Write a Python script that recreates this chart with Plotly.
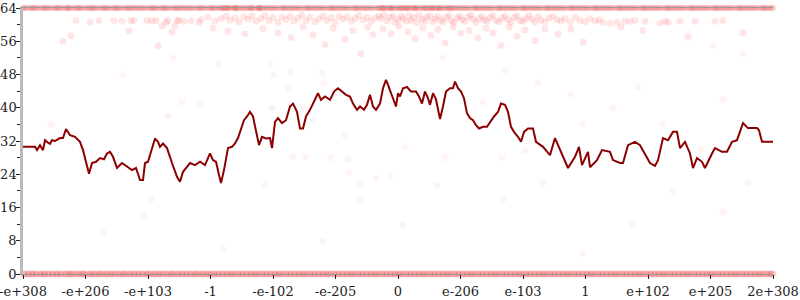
import plotly.graph_objects as go

# ---- tick labels (x axis: ordered float bit-pattern positions) ----
tick_labels = ["-e+308", "-e+206", "-e+103", "-1", "-e-102", "-e-205", "0",
               "e-206", "e-103", "1", "e+102", "e+205", "2e+308"]
tick_pos = [0, 62.5, 125, 187.5, 250, 312.5, 375, 437.5, 500, 562.5, 625, 687.5, 750]

# ---- moving-average line ----
line_x = [0, 12, 14, 17, 20, 22, 25, 27, 29, 32, 37, 40, 43, 47, 52, 57, 60, 63, 66, 69,
          73, 77, 81, 84, 87, 90, 94, 99, 104, 109, 113, 117, 120, 122, 125, 129, 132, 135,
          137, 140, 144, 149, 154, 157, 160, 164, 167, 172, 177, 182, 185, 187, 190, 193,
          196, 198, 201, 205, 209, 212, 215, 218, 221, 224, 227, 230, 233, 236, 239, 243,
          247, 249, 252, 255, 259, 263, 267, 270, 274, 277, 280, 283, 287, 292, 295, 298,
          302, 307, 311, 315, 319, 323, 327, 330, 334, 337, 341, 344, 347, 350, 353, 357,
          360, 363, 365, 368, 371, 373, 375, 377, 380, 384, 388, 393, 396, 399, 402, 405,
          407, 410, 413, 417, 420, 423, 427, 430, 432, 435, 438, 441, 444, 447, 450, 453,
          456, 460, 464, 467, 471, 475, 478, 482, 485, 488, 491, 495, 498, 501, 505, 510,
          513, 520, 527, 532, 539, 545, 552, 556, 559, 565, 567, 574, 579, 587, 590, 597,
          600, 605, 612, 617, 627, 632, 635, 640, 645, 650, 654, 657, 662, 667, 670, 674,
          679, 682, 689, 692, 699, 704, 709, 714, 720, 725, 734, 736, 739, 750]
line_y = [30.6, 30.6, 29.8, 31, 29.8, 32.2, 31.6, 31.3, 32.2, 32, 32.7, 32.7, 34.9, 33.4,
          33, 31.8, 29.8, 26.7, 24.1, 26.7, 27, 27.9, 27.6, 29, 29.4, 28.2, 25.5, 26.7, 25.8,
          25, 25.5, 22.6, 22.6, 26.7, 27, 30.2, 32.6, 31.8, 30.6, 31.4, 30.3, 26.7, 23.4,
          22.2, 24.6, 25.8, 26.7, 26.2, 27, 26.2, 27.8, 29, 27.4, 27, 23.8, 21.9, 25, 30.3,
          30.6, 31.4, 32.7, 34.6, 37, 37.9, 39, 37.9, 34.6, 31, 33, 32.6, 32.7, 30.3, 36.6,
          37.5, 36.3, 37, 40.3, 41, 39, 35, 35, 37.9, 39.5, 42.1, 43.5, 41.9, 42.7, 41.9,
          43.9, 44.7, 43.9, 43.1, 42.7, 41, 39.5, 40.3, 39.5, 40.7, 43.1, 40.3, 39.5, 41,
          44.7, 46.7, 45.5, 43.5, 41.9, 40.3, 43.5, 42.7, 44.7, 45, 43.9, 43.9, 42.7, 41,
          43.9, 42.3, 40.7, 43.5, 42, 37.3, 40.3, 43.9, 44.7, 44.7, 46.3, 44.7, 43.9, 42.3,
          38.7, 37.5, 37, 35.8, 35, 35.4, 35.4, 36.6, 37.9, 39, 41, 40.7, 39, 35.4, 34.2,
          33, 31.8, 34.2, 35, 35, 31.8, 30.6, 28.6, 32.7, 28.6, 25.5, 28.2, 30.6, 26.2,
          29.4, 25.7, 27.4, 29.8, 29.4, 27.4, 26.7, 26.7, 31, 31.8, 31, 26.7, 26, 27.4,
          32.7, 32.2, 34.2, 34.2, 30.3, 31.8, 29, 25.5, 27.9, 27, 25.5, 29, 30.3, 29.4,
          29.4, 31.8, 32.2, 36.3, 35.1, 35.1, 34.6, 31.8, 31.8]

# ---- dense bands of samples at the extremes ----
top_band_x = [0, 3, 8, 11, 15, 20, 23, 27, 32, 35, 39, 44, 46, 51, 55, 58, 63, 67, 70, 74,
              79, 82, 86, 91, 94, 98, 103, 106, 110, 114, 118, 122, 127, 130, 134, 139, 142,
              146, 151, 154, 158, 162, 166, 170, 175, 178, 182, 187, 190, 194, 198, 202, 206,
              211, 214, 218, 222, 226, 230, 235, 238, 242, 246, 250, 254, 259, 262, 266, 270,
              274, 278, 283, 286, 290, 294, 298, 302, 307, 310, 314, 318, 322, 326, 331, 334,
              338, 342, 346, 350, 355, 358, 362, 366, 370, 374, 379, 382, 386, 390, 394, 398,
              403, 406, 410, 414, 418, 422, 427, 430, 434, 438, 442, 446, 451, 454, 458, 462,
              466, 470, 475, 478, 482, 486, 490, 494, 499, 502, 506, 510, 514, 518, 523, 526,
              530, 534, 538, 542, 547, 550, 554, 558, 562, 566, 571, 574, 578, 582, 586, 590,
              595, 598, 602, 606, 610, 614, 619, 622, 626, 630, 634, 638, 643, 646, 650, 654,
              658, 662, 667, 670, 674, 678, 682, 686, 691, 694, 698, 702, 706, 710, 715, 718,
              722, 726, 730, 734, 739, 742, 746, 750, 200, 205, 212, 228, 236, 360, 368, 377,
              384, 392, 401, 409, 416, 425]
bottom_band_x = [1, 5, 9, 13, 18, 21, 26, 30, 34, 38, 43, 47, 50, 55, 59, 62, 67, 71, 75, 78,
                 83, 87, 90, 95, 99, 102, 107, 111, 115, 119, 123, 126, 131, 135, 138, 143,
                 147, 150, 155, 159, 163, 167, 171, 174, 179, 183, 186, 191, 195, 199, 203,
                 207, 210, 215, 219, 223, 227, 231, 234, 239, 243, 247, 251, 255, 258, 263,
                 267, 271, 275, 279, 282, 287, 291, 295, 299, 303, 306, 311, 315, 319, 323,
                 327, 330, 335, 339, 343, 347, 351, 354, 359, 363, 367, 371, 375, 378, 383,
                 387, 391, 395, 399, 402, 407, 411, 415, 419, 423, 426, 431, 435, 439, 443,
                 447, 450, 455, 459, 463, 467, 471, 474, 479, 483, 487, 491, 495, 498, 503,
                 507, 511, 515, 519, 522, 527, 531, 535, 539, 543, 546, 551, 555, 559, 563,
                 567, 570, 575, 579, 583, 587, 591, 594, 599, 603, 607, 611, 615, 618, 623,
                 627, 631, 635, 639, 642, 647, 651, 655, 659, 663, 666, 671, 675, 679, 683,
                 687, 690, 695, 699, 703, 707, 711, 714, 719, 723, 727, 731, 735, 738, 743,
                 747, 750]
# further samples that fill both extreme bands
band_fill_x = [1.5, 5.5, 9.5, 13, 17.5, 21.5, 25, 29.5, 33.5, 37, 41.5, 45, 48.5, 53, 56.5,
               60.5, 65, 68.5, 72, 76.5, 80.5, 84, 88.5, 92.5, 96, 100.5, 104.5, 108, 112,
               116, 120, 124.5, 128.5, 132, 136.5, 140.5, 144, 148.5, 152.5, 156, 160, 164,
               168, 172.5, 176.5, 180, 184.5, 188.5, 192, 196, 200, 204, 208.5, 212.5, 216,
               220, 224, 228, 232.5, 236.5, 240, 244, 248, 252, 256.5, 260.5, 264, 268, 272,
               276, 280.5, 284.5, 288, 292, 296, 300, 304.5, 308.5, 312, 316, 320, 324,
               328.5, 332.5, 336, 340, 344, 348, 352.5, 356.5, 360, 364, 368, 372, 376.5,
               380.5, 384, 388, 392, 396, 400.5, 404.5, 408, 412, 416, 420, 424.5, 428.5,
               432, 436, 440, 444, 448.5, 452.5, 456, 460, 464, 468, 472.5, 476.5, 480, 484,
               488, 492, 496.5, 500.5, 504, 508, 512, 516, 520.5, 524.5, 528, 532, 536, 540,
               544.5, 548.5, 552, 556, 560, 564, 568.5, 572.5, 576, 580, 584, 588, 592.5,
               596.5, 600, 604, 608, 612, 616.5, 620.5, 624, 628, 632, 636, 640.5, 644.5,
               648, 652, 656, 660, 664.5, 668.5, 672, 676, 680, 684, 688.5, 692.5, 696, 700,
               704, 708, 712.5, 716.5, 720, 724, 728, 732, 736.5, 740.5, 744, 748]
TOP_VALUE = 64.0
BOTTOM_VALUE = 0.0

# ---- cloud of samples just below the top ----
cloud_x = [53, 67, 76, 91, 99, 108, 111, 124, 129, 133, 143, 145, 154, 156, 161, 168, 176,
           40, 48, 106, 135, 139, 149, 152,
           178, 185, 192, 198, 203, 207, 212, 216, 221, 225, 229, 233, 238, 242, 246, 250,
           255, 259, 263, 267, 271, 275, 279, 283, 287, 292, 296, 300, 304, 308, 312, 316,
           320, 324, 328, 332, 336, 340, 344, 348, 352, 356,
           190, 205, 222, 240, 255, 268, 280, 290, 302, 310, 322, 330, 338, 345, 350,
           358, 361, 364, 367, 370, 372, 375, 378, 380, 383, 386, 388, 391, 394, 396, 399,
           402, 404, 407, 410, 412, 415, 418, 420, 423, 426, 428, 431, 434, 437, 439, 442,
           445, 448, 450, 453, 456, 459, 461, 464, 467, 470, 473, 476, 479, 482, 485, 488,
           491, 494, 497, 500, 503, 506, 509, 512, 515, 518, 522, 526, 530, 534, 538, 542,
           547, 552, 557, 562, 567, 572, 576,
           360, 368, 376, 385, 392, 400, 408, 415, 422, 430, 438, 446, 455, 463, 470, 478,
           486, 494, 502, 512, 522, 535, 548, 560,
           580, 587, 594, 602, 607, 612, 622, 637, 642, 645, 657, 672, 692, 700, 598, 620,
           665, 720]
cloud_y = [61.0, 60.6, 61.0, 61.0, 60.8, 61.0, 61.0, 61.0, 60.8, 61.0, 60.5, 61.0, 61.0,
           61.0, 60.8, 61.0, 60.5,
           56.0, 57.3, 58.5, 55.0, 59.7, 58.2, 59.7,
           61.2, 61.8, 60.9, 61.5, 62.0, 61.1, 61.6, 60.7, 61.9, 61.3, 62.1, 60.8, 61.5,
           62.2, 61.0, 61.7, 60.6, 61.9, 61.2, 62.0, 60.9, 61.6, 62.3, 61.0, 61.8, 60.7,
           61.4, 62.1, 61.0, 61.7, 60.6, 62.0, 61.3, 61.9, 60.8, 61.5, 62.2, 61.1, 61.8,
           60.9, 61.6, 62.1,
           59.2, 58.4, 57.8, 59.0, 58.0, 56.9, 59.5, 57.5, 55.2, 59.1, 56.5, 58.6, 53.0,
           59.4, 57.6,
           61.4, 62.3, 60.9, 61.8, 62.1, 60.6, 61.2, 62.0, 61.5, 60.8, 62.2, 61.0, 61.7,
           60.5, 62.3, 61.3, 60.9, 61.9, 62.1, 60.7, 61.4, 62.0, 61.1, 60.6, 61.8, 62.2,
           61.0, 60.5, 61.6, 62.1, 61.2, 60.8, 61.9, 62.3, 61.3, 60.6, 61.5, 62.0, 61.1,
           60.9, 61.7, 62.2, 61.0, 60.7, 61.6, 62.0, 61.2, 60.5, 61.8, 62.1, 61.0, 60.8,
           61.5, 62.2, 61.3, 60.6, 61.9, 61.1, 60.7, 61.6, 62.0, 61.2, 60.9, 61.5, 60.6,
           61.8, 61.0, 60.7, 61.4, 60.9, 61.2,
           59.0, 57.8, 59.6, 58.3, 56.6, 59.2, 57.4, 58.8, 55.6, 59.4, 57.9, 58.6, 56.8,
           59.1, 58.0, 55.0, 59.5, 57.2, 58.7, 56.2, 59.0, 57.6, 58.9, 55.8,
           60.6, 60.3, 60.6, 60.8, 60.8, 61.0, 60.8, 60.4, 60.8, 60.6, 60.8, 60.8, 60.8,
           61.0, 59.4, 58.6, 57.0, 58.0]

# ---- sparse samples elsewhere ----
sparse_x = [28, 128, 145, 159, 177, 196, 247, 250, 268, 299, 301, 249, 266, 282, 290, 308,
            322, 326, 353, 337, 367, 338, 325, 242, 270, 281, 382, 422, 460, 479, 502, 414,
            482, 515, 548, 560, 590, 615, 640, 678, 700, 720, 610, 560, 300, 200, 120, 60,
            80, 420, 650, 700, 380, 480, 520, 150, 100, 690, 725]
sparse_y = [35.9, 18.0, 38.0, 41.4, 40.7, 50.5, 50.5, 47.9, 48.6, 48.4, 46.0, 40.0, 44.7,
            28.2, 37.0, 28.0, 33.4, 24.3, 22.9, 21.4, 23.6, 17.8, 27.5, 21.4, 28.2, 40.0,
            30.6, 28.0, 41.4, 28.0, 29.8, 21.4, 49.0, 46.0, 43.3, 36.0, 40.0, 45.0, 36.0,
            30.0, 42.0, 53.0, 12.0, 5.0, 8.0, 6.0, 14.0, 30.0, 10.0, 52.0, 20.0, 15.0, 12.0,
            18.0, 22.0, 52.0, 48.0, 55.0, 22.0]

FONT = "DejaVu Serif"
fig = go.Figure()


def pts(x, y, color, size=7):
    fig.add_trace(go.Scatter(x=x, y=y, mode="markers", cliponaxis=False, hoverinfo="skip",
                             marker=dict(size=size, color=color, line=dict(width=0))))


pts(sparse_x, sparse_y, "rgba(255,0,0,0.045)")
pts(cloud_x, cloud_y, "rgba(255,0,0,0.1)")
top_all = top_band_x + band_fill_x
bot_all = bottom_band_x + band_fill_x
pts(top_all, [TOP_VALUE] * len(top_all), "rgba(235,0,0,0.16)", size=6)
pts(bot_all, [BOTTOM_VALUE] * len(bot_all), "rgba(235,0,0,0.15)", size=7)
fig.add_trace(go.Scatter(x=line_x, y=line_y, mode="lines", hoverinfo="skip",
                         line=dict(color="#8b0000", width=2)))

tick_common = dict(tickcolor="#222", tickwidth=1.2)
minor_out = dict(dtick=4, ticklen=3, tickcolor="#222", tickwidth=1, ticks="outside")
minor_in = dict(dtick=4, ticklen=3, tickcolor="#222", tickwidth=1, ticks="inside")
no_auto = dict(automargin=False, showgrid=False, zeroline=False)

yrange = [0, 64]
fig.update_layout(
    width=800, height=300,
    margin=dict(l=23, r=27, t=8, b=26, autoexpand=False),
    plot_bgcolor="white", paper_bgcolor="white",
    showlegend=False,
    font=dict(family=FONT, size=13, color="#222"),
    xaxis=dict(range=[0, 750], tickmode="array", tickvals=tick_pos, ticktext=tick_labels,
               ticks="outside", ticklen=4, showline=True, linecolor="#999", linewidth=1,
               mirror=True, ticklabelstandoff=1, ticklabeloverflow="allow",
               tickfont=dict(family=FONT, size=13, color="#222"), **no_auto, **tick_common),
    xaxis2=dict(range=[0, 750], overlaying="x", side="bottom", anchor="y",
                tickmode="array", tickvals=tick_pos, ticks="inside", ticklen=4,
                showticklabels=False, showline=False, **no_auto, **tick_common),
    yaxis=dict(range=yrange, dtick=8, ticks="outside", ticklen=4,
               showline=True, linecolor="#bbb", linewidth=2.5, ticklabelstandoff=-3,
               ticklabeloverflow="allow",
               minor=minor_out, tickfont=dict(family=FONT, size=13, color="#222"),
               **no_auto, **tick_common),
    yaxis2=dict(range=yrange, dtick=8, overlaying="y", side="left", anchor="x",
                ticks="inside", ticklen=5, showticklabels=False,
                showline=False, minor=minor_in, **no_auto, **tick_common),
    yaxis3=dict(range=yrange, dtick=8, overlaying="y", side="left", anchor="free",
                position=0.5, ticks="outside", ticklen=5, showticklabels=False,
                showline=True, linecolor="#bbb", linewidth=2.5, minor=minor_out,
                **no_auto, **tick_common),
    yaxis4=dict(range=yrange, dtick=8, overlaying="y", side="right", anchor="free",
                position=0.5, ticks="outside", ticklen=5, showticklabels=False,
                showline=False, minor=minor_out, **no_auto, **tick_common),
    yaxis5=dict(range=yrange, dtick=8, overlaying="y", side="right", anchor="x",
                ticks="outside", ticklen=5, showticklabels=False,
                showline=True, linecolor="#bbb", linewidth=2.5,
                minor=minor_out, **no_auto, **tick_common),
    yaxis6=dict(range=yrange, dtick=8, overlaying="y", side="right", anchor="x",
                ticks="inside", ticklen=5, showticklabels=False,
                showline=False, minor=minor_in, **no_auto, **tick_common),
)

fig.write_html("out.html")
